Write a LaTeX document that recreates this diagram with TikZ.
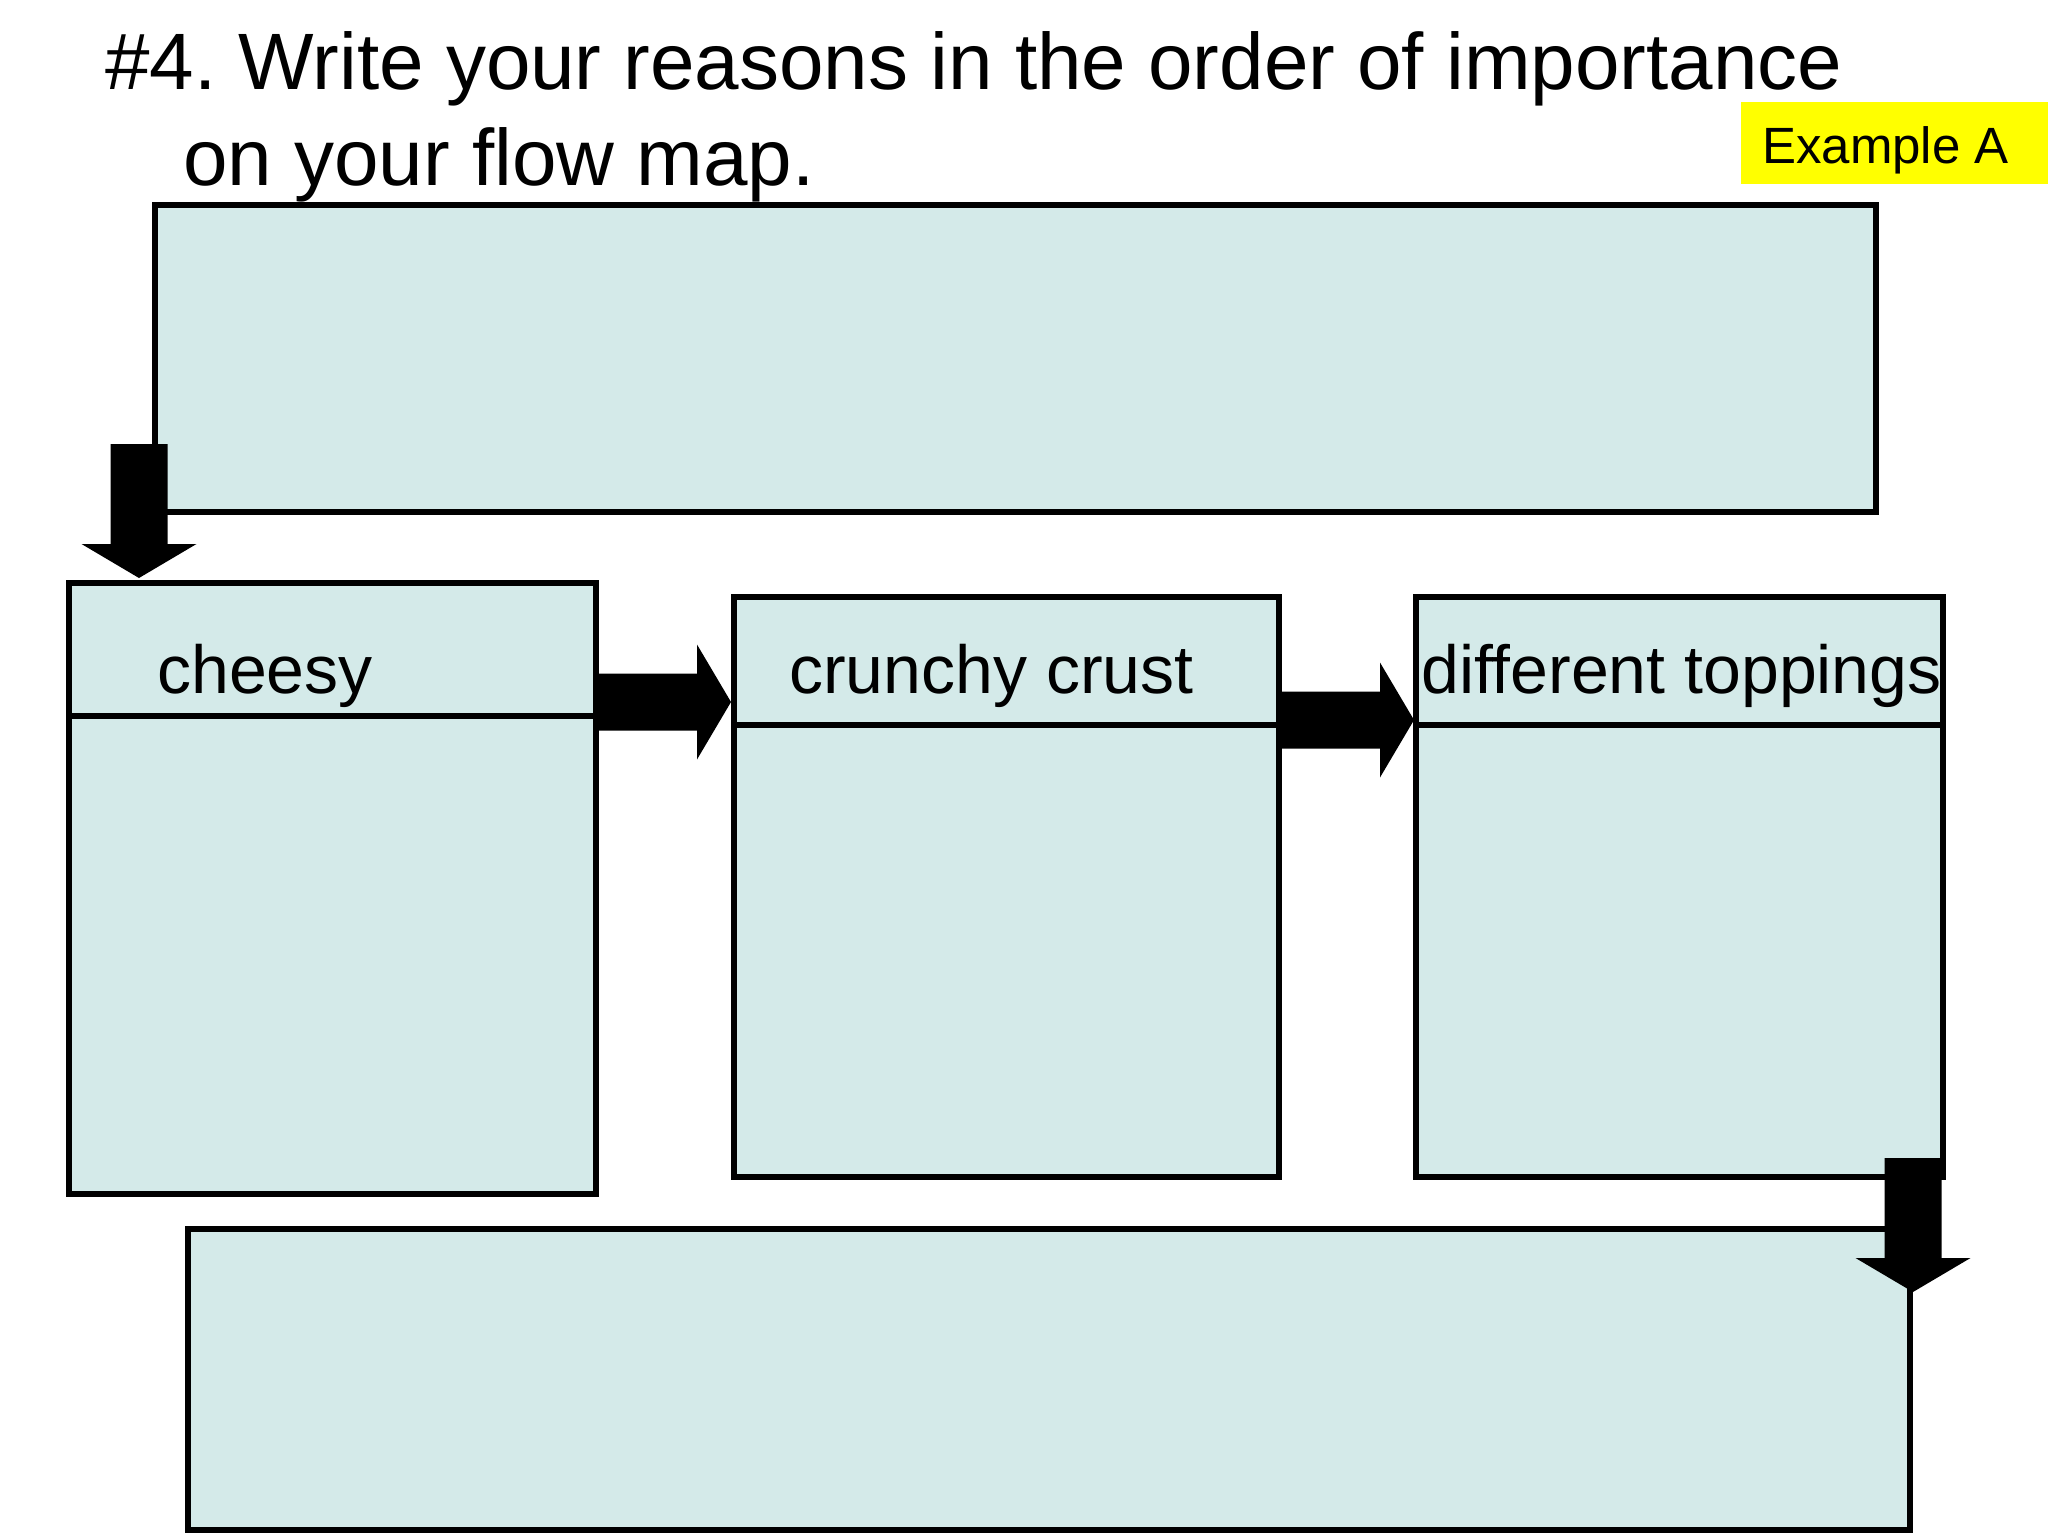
\documentclass[tikz,border=0pt]{standalone}
\usepackage{fontspec}
\setmainfont[Ligatures=NoCommon]{Liberation Sans}
\usetikzlibrary{calc}
\frenchspacing
\definecolor{boxfill}{RGB}{212,234,233}
\definecolor{tagyellow}{RGB}{255,255,0}
\tikzset{
  panel/.style={draw=black, line width=6pt, fill=boxfill, rectangle, inner sep=0pt, outer sep=0pt, anchor=north west},
  divider/.style={draw=black, line width=6pt},
  label/.style={inner sep=0pt, anchor=base west, font=\fontsize{68}{80}\selectfont},
  titletext/.style={inner sep=0pt, anchor=base west, font=\fontsize{80}{95}\selectfont},
  blockdown/.pic={\fill[black] (0,0) -- (-57.5,-34) -- (-28.5,-34) -- (-28.5,-134) -- (28.5,-134) -- (28.5,-34) -- (57.5,-34) -- cycle;},
  blockright/.pic={\fill[black] (0,0) -- (-34,-57.5) -- (-34,-28.5) -- (-134,-28.5) -- (-134,28.5) -- (-34,28.5) -- (-34,57.5) -- cycle;}
}
\begin{document}
\begin{tikzpicture}[x=1pt,y=-1pt]
\useasboundingbox (0,0) rectangle (2048,1536);
\fill[white] (0,0) rectangle (2048,1536);

% title
\node[titletext] (t1) at (105,90) {\#4. Write your reasons in the order of importance};
\node[titletext] (t2) at (183,185) {on your flow map.};

% example tag
\node[fill=tagyellow, inner sep=0pt, minimum width=307pt, minimum height=82pt, anchor=north west] (tag) at (1741,102) {};
\node[inner sep=0pt, anchor=base west, font=\fontsize{51}{60}\selectfont] (tagtext) at (1762,164) {Example A};

% boxes
\node[panel, minimum width=1721pt, minimum height=307pt] (top) at (155,205) {};
\node[panel, minimum width=527pt, minimum height=611pt] (left) at (69,583) {};
\node[panel, minimum width=545pt, minimum height=580pt] (mid) at (734,597) {};
\node[panel, minimum width=527pt, minimum height=580pt] (right) at (1416,597) {};
\node[panel, minimum width=1722pt, minimum height=301pt] (bottom) at (188,1229) {};

% dividers
\draw[divider] ($(left.north west)+(0,133)$) -- ($(left.north east)+(0,133)$);
\draw[divider] ($(mid.north west)+(0,128)$) -- ($(mid.north east)+(0,128)$);
\draw[divider] ($(right.north west)+(0,128)$) -- ($(right.north east)+(0,128)$);

% labels
\node[label] (l1) at ($(left.north west)+(88,110)$) {cheesy};
\node[label] (l2) at ($(mid.north west)+(55,96)$) {crunchy crust};
\node[label] (l3) at ($(right.north west)+(5,96)$) {different toppings};

% block arrows
\coordinate (a1) at ($(left.north west)+(70,-5)$);
\coordinate (a2) at ($(mid.north west)+(-3,105)$);
\coordinate (a3) at ($(right.north west)+(-2,123)$);
\coordinate (a4) at ($(bottom.north east)+(3,63)$);
\pic at (a1) {blockdown};
\pic at (a2) {blockright};
\pic at (a3) {blockright};
\pic at (a4) {blockdown};
\end{tikzpicture}
\end{document}
